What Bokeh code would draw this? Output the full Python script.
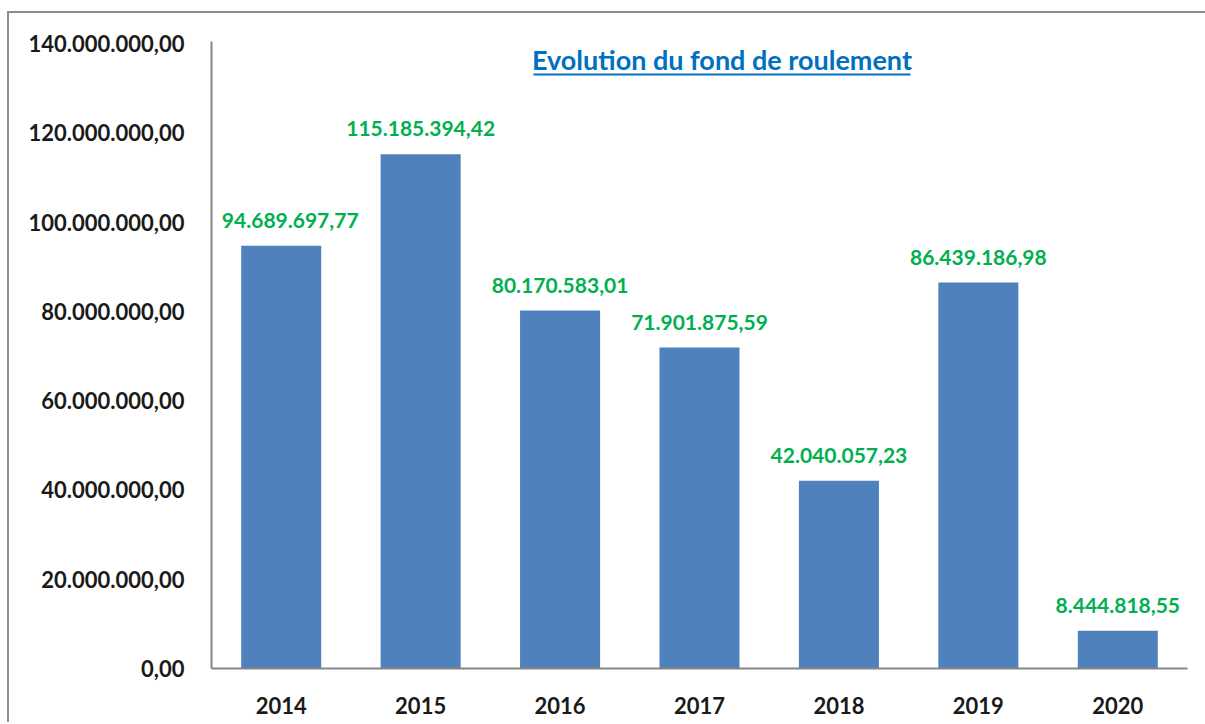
from bokeh.plotting import figure
from bokeh.models import ColumnDataSource, FixedTicker, Label
from bokeh.core.properties import value
from bokeh.embed import file_html
from bokeh.resources import INLINE

years = ["2014", "2015", "2016", "2017", "2018", "2019", "2020"]
amounts = [94689697.77, 115185394.42, 80170583.01, 71901875.59, 42040057.23, 86439186.98, 8444818.55]
y_ticks = [0, 20000000, 40000000, 60000000, 80000000, 100000000, 120000000, 140000000]
title_text = "Evolution du fond de roulement"


def fmt(v):
    s = f"{v:,.2f}"
    return s.replace(",", "X").replace(".", ",").replace("X", ".")


FONT = "Lato"
# first label is nudged right so that it stays clear of the value axis (as Excel does)
label_dx = [9 if i == 0 else 0 for i in range(len(years))]
src = ColumnDataSource(dict(x=years, y=amounts, lbl=[fmt(v) for v in amounts], dx=label_dx))

p = figure(x_range=years, y_range=(0, 140450000), width=1200, height=711,
           output_backend="svg", toolbar_location=None,
           min_border_left=202, min_border_right=22, min_border_top=28, min_border_bottom=56)
p.outline_line_color = None
p.grid.visible = False
p.background_fill_color = "white"

p.vbar(x="x", top="y", width=0.574, source=src, color="#4F81BD", line_color=None)
p.text(x="x", y="y", text="lbl", source=src, y_offset=-18, x_offset="dx",
       text_align="center", text_baseline="bottom",
       text_font=value(FONT), text_font_style="bold", text_font_size="21px",
       text_color="#00B050")

ya = p.yaxis[0]
ya.ticker = FixedTicker(ticks=y_ticks)
ya.major_label_overrides = {t: fmt(t) for t in y_ticks}
ya.major_tick_line_color = None
ya.minor_tick_line_color = None
ya.axis_line_color = "#868686"
ya.axis_line_width = 2
ya.major_label_standoff = 21
ya.major_label_text_font = FONT
ya.major_label_text_font_style = "bold"
ya.major_label_text_font_size = "22px"
ya.major_label_text_color = "#1a1a1a"

xa = p.xaxis[0]
xa.major_tick_line_color = None
xa.minor_tick_line_color = None
xa.axis_line_color = "#868686"
xa.axis_line_width = 2
xa.major_label_standoff = 22
xa.major_label_text_font = FONT
xa.major_label_text_font_style = "bold"
xa.major_label_text_font_size = "22px"
xa.major_label_text_color = "#1a1a1a"

title = Label(x=3.661, y=136400000, text=title_text, text_align="center",
              text_baseline="middle", text_font=FONT, text_font_style="bold",
              text_font_size="27px", text_color="#0070C0")
p.add_layout(title)
p.segment(x0=[2.309], x1=[5.013], y0=[133060000], y1=[133060000],
          line_color="#0070C0", line_width=2)

p.styles = {"border-top": "2px solid #8c8c8c", "border-left": "2px solid #8c8c8c",
            "margin-top": "11px", "margin-left": "7px"}

open("out.html", "w").write(file_html(p, INLINE))
